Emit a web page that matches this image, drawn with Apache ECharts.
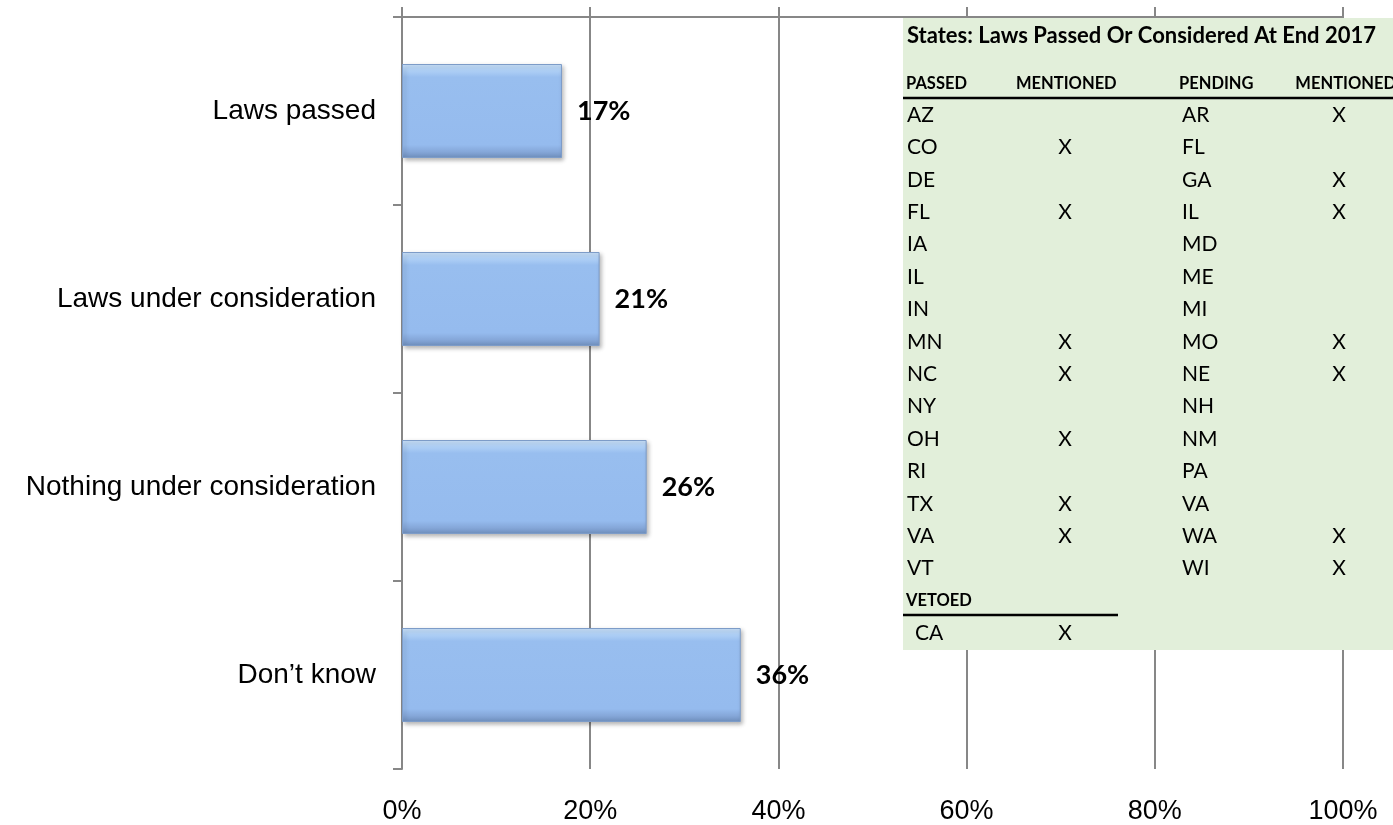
<!DOCTYPE html>
<html>
<head>
<meta charset="utf-8">
<script src="https://cdn.jsdelivr.net/npm/echarts@6/dist/echarts.min.js"></script>
<style>
  html, body { margin: 0; padding: 0; background: #ffffff; }
  #chart { width: 1393px; height: 825px; }
</style>
</head>
<body>
<div id="chart"></div>
<script>
// Survey responses (percent of respondents)
const categories = ['Laws passed', 'Laws under consideration', 'Nothing under consideration', 'Don\u2019t know'];
const shares = [17, 21, 26, 36];

// Value axis
const axisMin = 0;
const axisMax = 100;
const axisStep = 20;

// State table
const tableTitle = 'States: Laws Passed Or Considered At End 2017';
const tableHeaders = ['PASSED', 'MENTIONED', 'PENDING', 'MENTIONED'];
const passedStates    = ['AZ', 'CO', 'DE', 'FL', 'IA', 'IL', 'IN', 'MN', 'NC', 'NY', 'OH', 'RI', 'TX', 'VA', 'VT'];
const passedMentioned = ['',   'X',  '',   'X',  '',   '',   '',   'X',  'X',  '',   'X',  '',   'X',  'X',  ''];
const pendingStates    = ['AR', 'FL', 'GA', 'IL', 'MD', 'ME', 'MI', 'MO', 'NE', 'NH', 'NM', 'PA', 'VA', 'WA', 'WI'];
const pendingMentioned = ['X',  '',   'X',  'X',  '',   '',   '',   'X',  'X',  '',   '',   '',   '',   'X',  'X'];
const vetoedHeader = 'VETOED';
const vetoedStates = ['CA'];
const vetoedMentioned = ['X'];

const AXIS_GREY = '#878787';
const TABLE_FONT = 'Lato, "Open Sans", sans-serif';

// ---- table overlay built as graphic elements ----
function buildTable() {
  const left = 903, top = 18, right = 1393, bottom = 650;
  const colX = [906, 1016, 1179, 1396];   // header columns (last one right-aligned)
  const colAlign = ['left', 'left', 'left', 'right'];
  const codeX = [907, 1182];              // state code columns
  const markX = [1065, 1339];             // "X" column centres
  const rowStart = 115, rowStep = 32.4;
  const els = [];
  els.push({ type: 'rect', shape: { x: left, y: top, width: right - left, height: bottom - top },
             style: { fill: '#E2EFDA' } });
  els.push({ type: 'text', x: 907, y: 36,
             style: { text: tableTitle, font: 'bold 22px ' + TABLE_FONT, fill: '#000',
                      align: 'left', verticalAlign: 'middle' } });
  tableHeaders.forEach((h, i) => {
    els.push({ type: 'text', x: colX[i], y: 84,
               style: { text: h, font: 'bold 16.5px ' + TABLE_FONT, fill: '#000',
                        align: colAlign[i], verticalAlign: 'middle' } });
  });
  els.push({ type: 'line', shape: { x1: left, y1: 98, x2: right, y2: 98 },
             style: { stroke: '#000', lineWidth: 2.5 } });
  const body = (txt, x, y, align) => ({
    type: 'text', x: x, y: y,
    style: { text: txt, font: '21px ' + TABLE_FONT, fill: '#000', align: align, verticalAlign: 'middle' }
  });
  passedStates.forEach((s, i) => {
    const y = rowStart + i * rowStep;
    els.push(body(s, codeX[0], y, 'left'));
    if (passedMentioned[i]) els.push(body(passedMentioned[i], markX[0], y, 'center'));
  });
  pendingStates.forEach((s, i) => {
    const y = rowStart + i * rowStep;
    els.push(body(s, codeX[1], y, 'left'));
    if (pendingMentioned[i]) els.push(body(pendingMentioned[i], markX[1], y, 'center'));
  });
  const vetoY = rowStart + passedStates.length * rowStep;
  els.push({ type: 'text', x: 906, y: vetoY,
             style: { text: vetoedHeader, font: 'bold 16.5px ' + TABLE_FONT, fill: '#000',
                      align: 'left', verticalAlign: 'middle' } });
  els.push({ type: 'line', shape: { x1: left, y1: vetoY + 14, x2: 1118, y2: vetoY + 14 },
             style: { stroke: '#000', lineWidth: 2.5 } });
  vetoedStates.forEach((s, i) => {
    const y = vetoY + (i + 1) * rowStep;
    els.push(body(s, codeX[0] + 8, y, 'left'));
    if (vetoedMentioned[i]) els.push(body(vetoedMentioned[i], markX[0], y, 'center'));
  });
  // keep the whole table above the grid lines
  return els.map(e => Object.assign(e, { z: 100 }));
}

const chart = echarts.init(document.getElementById('chart'), null, { renderer: 'canvas' });

const barFill = new echarts.graphic.LinearGradient(0, 0, 0, 1, [
  { offset: 0.00, color: '#CBE3FB' },
  { offset: 0.07, color: '#AFD0F6' },
  { offset: 0.14, color: '#98BEEF' },
  { offset: 0.86, color: '#95BBEE' },
  { offset: 0.93, color: '#86A8DA' },
  { offset: 1.00, color: '#7090BE' }
]);

chart.setOption({
  backgroundColor: '#ffffff',
  animation: false,
  grid: { left: 402, right: 50, top: 17, bottom: 55, containLabel: false },
  xAxis: [
    {
      type: 'value', position: 'top', min: axisMin, max: axisMax, interval: axisStep,
      axisLine: { show: true, lineStyle: { color: AXIS_GREY, width: 2 } },
      axisTick: { show: true, length: 10, lineStyle: { color: AXIS_GREY, width: 2 } },
      axisLabel: { show: false },
      splitLine: { show: false }
    },
    {
      type: 'value', position: 'bottom', min: axisMin, max: axisMax, interval: axisStep,
      axisLine: { show: false },
      axisTick: { show: false },
      axisLabel: {
        formatter: '{value}%', color: '#000', fontSize: 27,
        fontFamily: '"Liberation Sans", Arial, sans-serif', margin: 29
      },
      splitLine: { show: true, lineStyle: { color: AXIS_GREY, width: 2 } }
    }
  ],
  yAxis: {
    type: 'category', data: categories, inverse: true,
    axisLine: { show: true, lineStyle: { color: AXIS_GREY, width: 2 } },
    axisTick: { show: true, length: 9, lineStyle: { color: AXIS_GREY, width: 2 } },
    axisLabel: {
      color: '#000', fontSize: 28, fontFamily: '"Liberation Sans", Arial, sans-serif', margin: 26
    }
  },
  series: [{
    type: 'bar', xAxisIndex: 1, data: shares, barWidth: '50%',
    itemStyle: {
      color: barFill, borderColor: '#7D9CC8', borderWidth: 1,
      shadowColor: 'rgba(0,0,0,0.28)', shadowBlur: 4, shadowOffsetX: 2, shadowOffsetY: 2
    },
    label: {
      show: true, position: 'right', distance: 15, formatter: '{c}%',
      color: '#000', fontSize: 27, fontWeight: 'bold', fontFamily: TABLE_FONT
    }
  }],
  graphic: { elements: [{ type: 'group', z: 100, children: buildTable() }] }
});
</script>
</body>
</html>
